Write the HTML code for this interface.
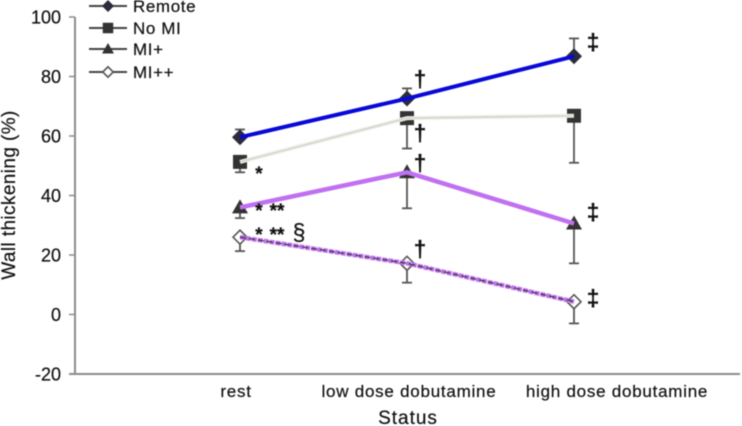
<!DOCTYPE html>
<html lang="en">
<head>
<meta charset="utf-8">
<title>Wall thickening chart</title>
<style>
html,body{margin:0;padding:0;background:#fff;}
svg{display:block;font-family:"Liberation Sans",sans-serif;fill:#111;filter:blur(0.4px);}
text{stroke:#111;stroke-width:0.2px;}
</style>
</head>
<body>
<svg id="chart" xmlns="http://www.w3.org/2000/svg" width="742" height="426" viewBox="0 0 742 426">
  <rect x="0" y="0" width="742" height="426" fill="#fff"/>
  <g id="axes"></g>
  <g id="errors"></g>
  <g id="markers"></g>
  <g id="lines"></g>
  <text transform="translate(15,195) rotate(-90)" text-anchor="middle" font-size="19" letter-spacing="0.4">Wall thickening (%)</text>
  <text x="408" y="424" text-anchor="middle" font-size="19" letter-spacing="1">Status</text>
  <g id="legend"></g>
  <g font-size="23" font-weight="bold">
    <text x="420" y="87" text-anchor="middle">†</text>
    <text x="420" y="141" text-anchor="middle">†</text>
    <text x="420" y="171" text-anchor="middle">†</text>
    <text x="420" y="257" text-anchor="middle">†</text>
    <text x="593" y="50" text-anchor="middle">‡</text>
    <text x="593" y="220" text-anchor="middle">‡</text>
    <text x="593" y="306" text-anchor="middle">‡</text>
    <text x="259" y="180" text-anchor="middle" font-size="19">*</text>
    <text x="259" y="217" font-size="19" text-anchor="middle">*</text>
    <text x="277" y="217" font-size="19" text-anchor="middle">**</text>
    <text x="259" y="241" font-size="19" text-anchor="middle">*</text>
    <text x="277" y="241" font-size="19" text-anchor="middle">**</text>
    <text x="299" y="240" font-size="23" font-weight="normal" text-anchor="middle">§</text>
  </g>
</svg>
<script>
const categories = ["rest", "low dose dobutamine", "high dose dobutamine"];
const yTicks = [100, 80, 60, 40, 20, 0, -20];
const seriesNames = ["Remote", "No MI", "MI+", "MI++"];
const remoteValues = [59.6, 72.6, 86.8];
const noMiValues = [51.3, 66, 66.8];
const miPlusValues = [36, 47.8, 30.6];
const miPlusPlusValues = [26, 17.2, 4.3];
const remoteErrorEnds = [62.2, 76, 92.8];
const noMiErrorEnds = [47.8, 55.8, 51];
const miPlusErrorEnds = [32.4, 35.7, 17.2];
const miPlusPlusErrorEnds = [21.3, 10.7, -3];

const NS = "http://www.w3.org/2000/svg";
const yScale = v => 314.5 - v * 2.975;
const xScale = i => 240 + i * 167;
const labelShift = [-4, 2, 43];

function make(tag, parent, attrs) {
  const el = document.createElementNS(NS, tag);
  for (const k in attrs) el.setAttribute(k, attrs[k]);
  parent.appendChild(el);
  return el;
}

const axes = document.getElementById("axes");
const yAxisLine = make("line", axes, {x1: 75, y1: yScale(100), x2: 75, y2: yScale(-20), stroke: "#8c8c8c", "stroke-width": 2});


const xAxisLine = make("line", axes, {x1: 69, y1: yScale(-20), x2: 740, y2: yScale(-20), stroke: "#8c8c8c", "stroke-width": 2});



yTicks.forEach(t => {
  const tick = make("line", axes, {x1: 69, y1: yScale(t), x2: 75, y2: yScale(t), stroke: "#8c8c8c", "stroke-width": 1.5});
  
  
  const label = make("text", axes, {x: 61, y: yScale(t) + 6.5, "text-anchor": "end", "font-size": 18});
  
  
  label.textContent = t;
});

categories.forEach((c, i) => {
  const label = make("text", axes, {x: xScale(i) + labelShift[i], y: 397, "text-anchor": "middle", "font-size": 17, "letter-spacing": 0.75});
  
  
  label.textContent = c;
});

function drawMarker(parent, kind, x, y, s) {
  let el;
  if (kind === 0) {
    el = make("polygon", parent, {points: `${x-8*s},${y} ${x},${y-8*s} ${x+8*s},${y} ${x},${y+8*s}`, fill: "#2b2b3a"});
  } else if (kind === 1) {
    el = make("rect", parent, {x: x - 7*s, y: y - 7*s, width: 14*s, height: 14*s, fill: "#333"});
  } else if (kind === 2) {
    el = make("polygon", parent, {points: `${x-8*s},${y+6*s} ${x},${y-8*s} ${x+8*s},${y+6*s}`, fill: "#333"});
  } else {
    el = make("polygon", parent, {points: `${x-7*s},${y} ${x},${y-7*s} ${x+7*s},${y} ${x},${y+7*s}`, fill: "#fff", stroke: "#555", "stroke-width": 1.6});
  }
  return el;
}

const errorsGroup = document.getElementById("errors");
const markersGroup = document.getElementById("markers");
const linesGroup = document.getElementById("lines");

function drawSeries(kind, values, errorEnds) {
  values.forEach((v, i) => {
    const x = xScale(i);
    const stem = make("line", errorsGroup, {x1: x, y1: yScale(v), x2: x, y2: yScale(errorEnds[i]), stroke: "#555", "stroke-width": 1.8});
    
    
    const cap = make("line", errorsGroup, {x1: x - 5, y1: yScale(errorEnds[i]), x2: x + 5, y2: yScale(errorEnds[i]), stroke: "#555", "stroke-width": 1.8});
    
    
    const marker = drawMarker(markersGroup, kind, x, yScale(v), 1);
    
    
  });
}

function drawLine(values, stroke, width, dash) {
  const pts = values.map((v, i) => xScale(i) + "," + yScale(v)).join(" ");
  const attrs = {points: pts, fill: "none", stroke: stroke, "stroke-width": width};
  if (dash) attrs["stroke-dasharray"] = dash;
  const line = make("polyline", linesGroup, attrs);
  
  
}

drawSeries(0, remoteValues, remoteErrorEnds);
drawSeries(1, noMiValues, noMiErrorEnds);
drawSeries(2, miPlusValues, miPlusErrorEnds);
drawSeries(3, miPlusPlusValues, miPlusPlusErrorEnds);

drawLine(remoteValues, "#0808d8", 4);
drawLine(noMiValues, "#ecece4", 4);
drawLine(noMiValues, "#c4c4bc", 0.8);
drawLine(miPlusValues, "#c070f0", 4.5);
drawLine(miPlusPlusValues, "#c070f0", 4.5, "5 1");
drawLine(miPlusPlusValues, "#333", 1.2, "6 3");

const legend = document.getElementById("legend");
const legendY = [6, 28, 49, 72];
seriesNames.forEach((name, i) => {
  const y = legendY[i];
  const line = make("line", legend, {x1: 89, y1: y, x2: 127, y2: y, stroke: "#444", "stroke-width": 2});
  
  
  const marker = drawMarker(legend, i, 108, y, 0.75);
  
  
  const label = make("text", legend, {x: 133, y: y + 6, "font-size": 17, "letter-spacing": 0.6});
  
  
  label.textContent = name;
});
</script>
</body>
</html>
